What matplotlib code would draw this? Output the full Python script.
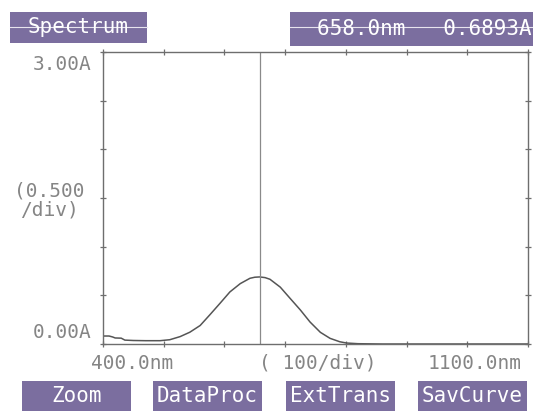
import matplotlib
matplotlib.use('Agg')
import matplotlib.pyplot as plt
from matplotlib.patches import Rectangle

# spectrum (nm, absorbance)
wavelength = [400, 410, 416, 420, 430, 436, 450, 470, 494, 510, 527, 543, 560, 576,
              593, 609, 626, 642, 650, 658, 667, 675, 692, 708, 725, 741, 758, 774,
              790, 801, 820, 860, 1100]
absorbance = [0.082, 0.082, 0.072, 0.062, 0.060, 0.040, 0.036, 0.034, 0.034, 0.044,
              0.076, 0.121, 0.19, 0.30, 0.42, 0.535, 0.62, 0.675, 0.686, 0.689,
              0.682, 0.665, 0.584, 0.47, 0.35, 0.226, 0.12, 0.058, 0.023, 0.01,
              0.003, 0.0, 0.0]

cursor_nm = 658.0
cursor_abs = 0.6893
x_ticks = [400, 500, 600, 700, 800, 900, 1000, 1100]
y_ticks = [0.0, 0.5, 1.0, 1.5, 2.0, 2.5, 3.0]
buttons = ['Zoom', 'DataProc', 'ExtTrans', 'SavCurve']

W, H = 533, 411
fig = plt.figure(figsize=(W / 100, H / 100), dpi=100)
fig.patch.set_facecolor('white')

mono = 'DejaVu Sans Mono'
txt_col = '#858585'
line_col = '#6e6e6e'
box_col = '#7b6e9f'

# overlay in pixel coordinates for the screen furniture
bg = fig.add_axes([0, 0, 1, 1])
bg.set_xlim(0, W)
bg.set_ylim(H, 0)
bg.axis('off')

# plot area: x 103..528, y 52..344 px
ax = fig.add_axes([103 / W, 1 - 344 / H, 425 / W, 292 / H])
ax.plot(wavelength, absorbance, color='#555555', lw=1.1)
ax.axvline(cursor_nm, color='#8a8a8a', lw=0.9)
ax.set_xlim(400, 1100)
ax.set_ylim(0, 3.0)
ax.set_xticks(x_ticks)
ax.set_yticks(y_ticks)
ax.tick_params(direction='inout', length=5, width=0.9, color=line_col,
               top=True, right=True, labelbottom=False, labelleft=False)
for s in ax.spines.values():
    s.set_color(line_col)
    s.set_linewidth(1.0)
ax.set_facecolor('none')

# header boxes
bg.add_patch(Rectangle((10, 12), 137, 31, color=box_col, lw=0))
bg.add_patch(Rectangle((290, 12), 243, 34, color=box_col, lw=0))
bg.plot([10, 147], [27, 27], color='#e8e4ee', lw=0.8)
bg.plot([290, 533], [27, 27], color='#e8e4ee', lw=0.8)
bg.text(78, 27, 'Spectrum', family=mono, fontsize=15, color='white',
        ha='center', va='center')
bg.text(424, 29, '%.1fnm   %.4fA' % (cursor_nm, cursor_abs), family=mono,
        fontsize=15, color='white', ha='center', va='center')

# axis annotations
bg.text(92, 65, '%.2fA' % y_ticks[-1], family=mono, fontsize=14, color=txt_col,
        ha='right', va='center')
bg.text(92, 332, '%.2fA' % y_ticks[0], family=mono, fontsize=14, color=txt_col,
        ha='right', va='center')
bg.text(49, 200, '(%.3f\n/div)' % (y_ticks[1] - y_ticks[0]), family=mono,
        fontsize=14, color=txt_col, ha='center', va='center', linespacing=1.0)
bg.text(132, 363, '%.1fnm' % x_ticks[0], family=mono, fontsize=14, color=txt_col,
        ha='center', va='center')
bg.text(318, 363, '( %d/div)' % (x_ticks[1] - x_ticks[0]), family=mono,
        fontsize=14, color=txt_col, ha='center', va='center')
bg.text(475, 363, '%.1fnm' % x_ticks[-1], family=mono, fontsize=14, color=txt_col,
        ha='center', va='center')

# soft keys along the bottom
btn_x = [22, 153, 286, 418]
for bx, name in zip(btn_x, buttons):
    bg.add_patch(Rectangle((bx, 381), 109, 30, color=box_col, lw=0))
    bg.text(bx + 54.5, 396, name, family=mono, fontsize=15, color='white',
            ha='center', va='center')

fig.savefig('out.png', dpi=100)
